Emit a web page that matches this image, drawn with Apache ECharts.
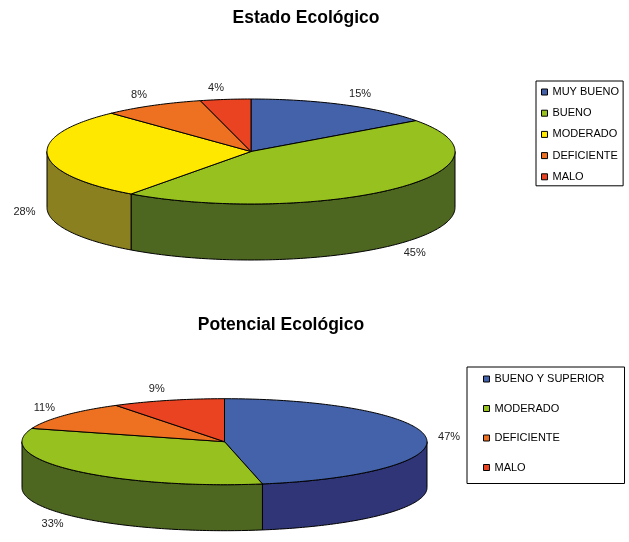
<!DOCTYPE html>
<html>
<head>
<meta charset="utf-8">
<script src="https://cdn.jsdelivr.net/npm/echarts@6/dist/echarts.min.js"></script>
<style>
  html, body { margin: 0; padding: 0; background: #fff; width: 629px; height: 542px; overflow: hidden; }
  #estado { position: absolute; left: 0; top: 0; width: 629px; height: 290px; }
  #potencial { position: absolute; left: 0; top: 290px; width: 629px; height: 252px; }
</style>
</head>
<body>
<div id="estado"></div>
<div id="potencial"></div>
<script>
// Estado Ecológico: share of water bodies in each class (%)
const estadoCategories = ['MUY BUENO', 'BUENO', 'MODERADO', 'DEFICIENTE', 'MALO'];
const estadoValues = [15, 45, 28, 8, 4];

// Potencial Ecológico: share of water bodies in each class (%)
const potencialCategories = ['BUENO Y SUPERIOR', 'MODERADO', 'DEFICIENTE', 'MALO'];
const potencialValues = [47, 33, 11, 9];

// Fill colours: top face and the darker outer wall of each slice
const estadoTop  = ['#4462A9', '#97C11F', '#FFE800', '#EE7021', '#E94322'];
const estadoSide = ['#2F3576', '#4D6620', '#8A8020', '#7A3A12', '#7A2412'];
const potencialTop  = ['#4462A9', '#97C11F', '#EE7021', '#E94322'];
const potencialSide = ['#2F3576', '#4D6620', '#7A3A12', '#7A2412'];

const FONT = '"Liberation Sans", Arial, sans-serif';

// Tilted pie drawn as an elliptical top face plus a visible front wall.
function pieOption(cfg) {
  const g = cfg.geo;
  const total = cfg.values.reduce((a, b) => a + b, 0);

  const pt = (deg, dy) => {
    const r = deg * Math.PI / 180;
    return [g.cx + g.rx * Math.sin(r), g.cy - g.ry * Math.cos(r) + (dy || 0)];
  };
  const arc = (s, e, dy) => {
    const n = Math.max(2, Math.ceil(e - s));
    const pts = [];
    for (let i = 0; i <= n; i++) pts.push(pt(s + (e - s) * i / n, dy));
    return pts;
  };

  const series = cfg.categories.map((name, idx) => ({
    type: 'custom',
    name: name,
    coordinateSystem: 'none',
    silent: true,
    animation: false,
    itemStyle: { color: cfg.top[idx] },
    data: [cfg.values[idx]],
    renderItem: function (params, api) {
      const v = api.value(0);
      let before = 0;
      for (let k = 0; k < idx; k++) before += cfg.values[k];
      const a0 = before / total * 360;
      const a1 = (before + v) / total * 360;
      const children = [];

      // outer wall: only the front half of the rim is visible
      const s = Math.max(a0, 90), e = Math.min(a1, 270);
      if (e > s) {
        const wall = arc(s, e, 0).concat(arc(s, e, g.depth).reverse());
        children.push({
          type: 'polygon',
          shape: { points: wall },
          style: { fill: cfg.side[idx], stroke: '#000', lineWidth: 1, lineJoin: 'round' }
        });
      }

      // top face
      const face = [[g.cx, g.cy]].concat(arc(a0, a1, 0));
      children.push({
        type: 'polygon',
        shape: { points: face },
        style: { fill: cfg.top[idx], stroke: '#000', lineWidth: 1, lineJoin: 'round' }
      });

      // percentage label just outside the rim at the slice's mid angle
      const mid = (a0 + a1) / 2;
      const m = mid * Math.PI / 180;
      const front = Math.cos(m) < 0;
      const rim = pt(mid, front ? g.depth : 0);
      const k = 12;
      children.push({
        type: 'text',
        style: {
          x: rim[0] + k * Math.sin(m),
          y: rim[1] - k * Math.cos(m),
          text: v + '%',
          align: Math.sin(m) >= 0 ? 'left' : 'right',
          verticalAlign: 'middle',
          fontSize: 11,
          fontFamily: FONT,
          fill: '#222'
        }
      });

      return { type: 'group', children: children };
    }
  }));

  return {
    animation: false,
    backgroundColor: '#fff',
    graphic: [{
      type: 'text',
      x: cfg.titleX,
      y: cfg.titleY,
      silent: true,
      style: {
        text: cfg.title,
        align: 'center',
        verticalAlign: 'middle',
        fontSize: 17.5,
        fontWeight: 'bold',
        fontFamily: FONT,
        fill: '#000'
      }
    }],
    legend: Object.assign({
      orient: 'vertical',
      icon: 'rect',
      itemWidth: 6,
      itemHeight: 6,
      borderColor: '#000',
      borderWidth: 1,
      borderRadius: 0,
      selectedMode: false,
      itemStyle: { borderColor: '#000', borderWidth: 1 },
      textStyle: { fontSize: 11, fontFamily: FONT, color: '#000', lineHeight: 12 },
      data: cfg.categories
    }, cfg.legend),
    series: series
  };
}

const estadoChart = echarts.init(document.getElementById('estado'), null, { renderer: 'canvas' });
estadoChart.setOption(pieOption({
  title: 'Estado Ecológico',
  titleX: 306,
  titleY: 18,
  categories: estadoCategories,
  values: estadoValues,
  top: estadoTop,
  side: estadoSide,
  geo: { cx: 251, cy: 151.5, rx: 204, ry: 52.5, depth: 56 },
  legend: { left: 536, top: 81, padding: [5, 4, 3, 5], itemGap: 9.2 }
}));

const potencialChart = echarts.init(document.getElementById('potencial'), null, { renderer: 'canvas' });
potencialChart.setOption(pieOption({
  title: 'Potencial Ecológico',
  titleX: 281,
  titleY: 35,
  categories: potencialCategories,
  values: potencialValues,
  top: potencialTop,
  side: potencialSide,
  geo: { cx: 224.5, cy: 151.7, rx: 202.5, ry: 43, depth: 46 },
  legend: { left: 467, top: 77, padding: [6, 20, 10, 16], itemGap: 17.5 }
}));
</script>
</body>
</html>
